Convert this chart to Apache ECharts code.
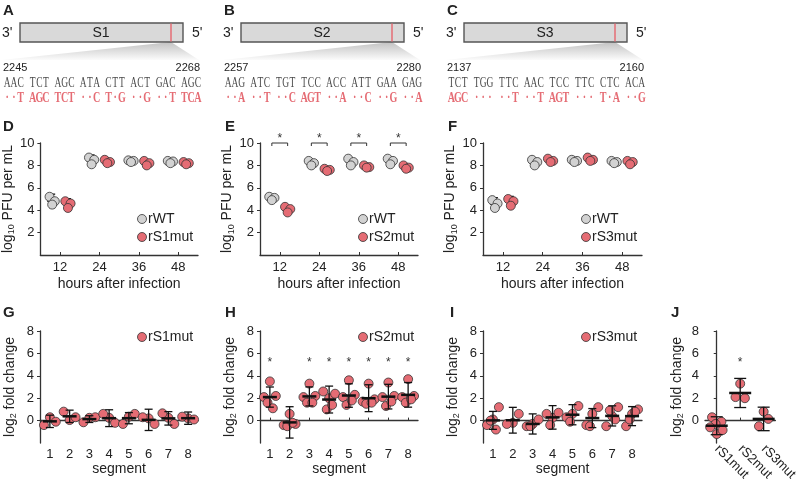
<!DOCTYPE html>
<html>
<head>
<meta charset="utf-8">
<script src="https://cdn.jsdelivr.net/npm/echarts@6/dist/echarts.min.js"></script>
<style>
html, body { margin: 0; background: #fff; }
#main { width: 800px; height: 487px; }
</style>
</head>
<body>
<div id="main"></div>
<script>
// ---- data ----
var hours = [12, 24, 36, 48];
var segments = [1, 2, 3, 4, 5, 6, 7, 8];
var mutNames = ['rS1mut', 'rS2mut', 'rS3mut'];

// log10 PFU per mL, 3 replicates per time point
var wtD = [[5.2, 4.8, 4.5], [8.7, 8.5, 8.1], [8.45, 8.4, 8.3], [8.4, 8.35, 8.2]];
var wtDsd = [0.6, 0.5, 0.15, 0.15];
var mutD = [[4.8, 4.6, 4.2], [8.5, 8.3, 8.2], [8.4, 8.2, 8.0], [8.3, 8.2, 8.1]];
var mutDsd = [0.5, 0.2, 0.25, 0.15];

var wtE = [[5.2, 5.1, 4.9], [8.4, 8.2, 8.0], [8.6, 8.3, 8.0], [8.6, 8.4, 8.1]];
var wtEsd = [0.15, 0.25, 0.3, 0.25];
var mutE = [[4.3, 4.1, 3.8], [7.7, 7.6, 7.5], [8.0, 7.85, 7.8], [8.0, 7.8, 7.7]];
var mutEsd = [0.25, 0.1, 0.1, 0.15];

var wtF = [[4.9, 4.6, 4.2], [8.5, 8.3, 8.0], [8.5, 8.4, 8.3], [8.4, 8.3, 8.2]];
var wtFsd = [0.55, 0.35, 0.15, 0.1];
var mutF = [[5.0, 4.8, 4.4], [8.6, 8.4, 8.3], [8.7, 8.5, 8.4], [8.4, 8.3, 8.1]];
var mutFsd = [0.5, 0.15, 0.15, 0.15];

var starHoursE = [12, 24, 36, 48];

// log2 fold change per segment
var foldS1 = [[0.3, -0.4, -0.1], [0.05, 0.8, 0.3], [0.25, -0.15, 0.3], [0.25, 0.6, -0.2],
              [0.35, -0.3, 0.6], [0.2, 0.3, -0.3], [0.25, 0.65, -0.3], [0.2, 0.35, 0.1]];
var foldS1sd = [0.55, 0.55, 0.3, 0.75, 0.5, 0.95, 0.6, 0.55];

var foldS2 = [[3.5, 2.1, 2.2, 1.6, 1.1], [0.6, -0.4, -0.3, -0.5, -0.2], [3.3, 2.1, 2.2, 1.6, 1.6],
              [2.0, 2.6, 2.4, 1.0, 1.4], [3.6, 2.1, 2.3, 1.4, 1.8], [3.3, 1.7, 1.9, 1.5, 1.6],
              [3.4, 2.1, 2.2, 1.3, 1.7], [3.7, 2.1, 2.2, 1.6, 1.9]];
var foldS2sd = [0.9, 1.4, 0.85, 1.2, 1.05, 1.2, 1.1, 1.1];
var starSegH = [1, 3, 4, 5, 6, 7, 8];

var foldS3 = [[0.1, -0.4, 1.2, 0.0, -0.8], [-0.2, -0.3, 0.6], [-0.3, -0.5, 0.1, -0.5], [0.25, 0.6, 0.7, -0.4],
              [0.6, 0.3, 1.3, -0.1], [0.6, -0.4, 1.2, -0.5], [0.4, -0.5, 1.2, 0.9, 0.1], [0.6, -0.5, 1.0, 0.1, 0.8]];
var foldS3sd = [0.8, 1.15, 0.9, 1.05, 0.9, 0.85, 0.9, 0.85];

var foldAll = [[-1.2, -0.1, 0.3, -0.85, -0.3, -0.6], [3.3, 2.0, 2.1], [0.8, 0.15, -0.5]];
var foldAllSd = [0.8, 1.3, 1.05];
var starJ = [1];

// spread of replicate dots (axis units)
var JIT_T = [-0.8, 0.8, 0.0];
var JIT_S = [0.0, -0.3, 0.3, -0.12, 0.15, -0.2];
var JIT_J = [0.0, 0.2, -0.2, 0.25, -0.05, -0.28];

var topPanels = [
    {letter: 'A', seg: 'S1', from: '2245', to: '2268',
     seq: 'AAC TCT AGC ATA CTT ACT GAC AGC', mut: '\u00b7\u00b7T AGC TCT \u00b7\u00b7C T\u00b7G \u00b7\u00b7G \u00b7\u00b7T TCA'},
    {letter: 'B', seg: 'S2', from: '2257', to: '2280',
     seq: 'AAG ATC TGT TCC ACC ATT GAA GAG', mut: '\u00b7\u00b7A \u00b7\u00b7T \u00b7\u00b7C AGT \u00b7\u00b7A \u00b7\u00b7C \u00b7\u00b7G \u00b7\u00b7A'},
    {letter: 'C', seg: 'S3', from: '2137', to: '2160',
     seq: 'TCT TGG TTC AAC TCC TTC CTC ACA', mut: 'AGC \u00b7\u00b7\u00b7 \u00b7\u00b7T \u00b7\u00b7T AGT \u00b7\u00b7\u00b7 T\u00b7A \u00b7\u00b7G'}
];

// ---- helpers ----
var FONT = '"Liberation Sans", Arial, sans-serif';
var RED = '#e56c74';
var GREY = '#d2d2d2';
var INK = '#222';

function mean(a) { var s = 0; a.forEach(function (v) { s += v; }); return s / a.length; }

function dots(vals, xs, shift, jit) {
    var out = [];
    vals.forEach(function (rep, i) {
        rep.forEach(function (v, k) { out.push([xs[i] + shift + jit[k], v]); });
    });
    return out;
}
function bars(vals, sd, xs, shift) {
    return vals.map(function (rep, i) { return [xs[i] + shift, mean(rep), sd[i]]; });
}

function scatter(gi, data, color) {
    return {type: 'scatter', xAxisIndex: gi, yAxisIndex: gi, data: data, symbolSize: 9, z: 3, silent: true,
        itemStyle: {color: color, borderColor: '#333', borderWidth: 0.8, opacity: 1}};
}

function errBars(gi, data, meanHalf, capHalf, thick, z) {
    return {type: 'custom', xAxisIndex: gi, yAxisIndex: gi, data: data, z: z, silent: true,
        encode: {x: 0, y: 1},
        renderItem: function (params, api) {
            var x = api.value(0), m = api.value(1), s = api.value(2);
            var c = api.coord([x, m]), t = api.coord([x, m + s]), b = api.coord([x, m - s]);
            function ln(x1, y1, x2, y2, w) {
                return {type: 'line', shape: {x1: x1, y1: y1, x2: x2, y2: y2},
                    style: {stroke: '#111', fill: null, lineWidth: w}};
            }
            return {type: 'group', children: [
                ln(c[0], t[1], c[0], b[1], 1.3),
                ln(c[0] - capHalf, t[1], c[0] + capHalf, t[1], 1.3),
                ln(c[0] - capHalf, b[1], c[0] + capHalf, b[1], 1.3),
                ln(c[0] - meanHalf, c[1], c[0] + meanHalf, c[1], thick)
            ]};
        }};
}

function starText(x, y) {
    return {type: 'text', x: x, y: y, style: {text: '*', fill: '#333', font: '12px ' + FONT,
        align: 'center', textAlign: 'center', verticalAlign: 'middle', textVerticalAlign: 'middle'}};
}

function stars(gi, xs, yv) {
    return {type: 'custom', xAxisIndex: gi, yAxisIndex: gi, z: 5, silent: true,
        data: xs.map(function (x) { return [x, yv]; }), encode: {x: 0, y: 1},
        renderItem: function (params, api) {
            var p = api.coord([api.value(0), api.value(1)]);
            return starText(p[0], p[1]);
        }};
}

function brackets(gi, xs, yv, half) {
    return {type: 'custom', xAxisIndex: gi, yAxisIndex: gi, z: 5, silent: true,
        data: xs.map(function (x) { return [x, yv]; }), encode: {x: 0, y: 1},
        renderItem: function (params, api) {
            var x = api.value(0), y = api.value(1);
            var l = api.coord([x - half, y]), r = api.coord([x + half, y]);
            return {type: 'group', children: [
                {type: 'polyline', shape: {points: [[l[0], l[1] + 3], [l[0], l[1]], [r[0], r[1]], [r[0], r[1] + 3]]},
                    style: {stroke: '#333', fill: null, lineWidth: 1}},
                starText((l[0] + r[0]) / 2, l[1] - 4)
            ]};
        }};
}

var axisLine = {lineStyle: {color: '#333', width: 1.3}};
var nameStyle = {color: INK, fontSize: 14, fontFamily: FONT,
    rich: {s: {fontSize: 9, fontFamily: FONT, color: INK, padding: [7, 0, 0, 0]}}};

function xTime(gi) {
    return {gridIndex: gi, type: 'value', min: 6, max: 54, axisLine: axisLine,
        axisTick: {inside: true, length: 3, customValues: hours, lineStyle: {color: '#333'}},
        axisLabel: {customValues: hours, color: INK, fontSize: 13, fontFamily: FONT, margin: 6},
        splitLine: {show: false},
        name: 'hours after infection', nameLocation: 'middle', nameGap: 22, nameTextStyle: nameStyle};
}
function xSeg(gi) {
    return {gridIndex: gi, type: 'value', min: 0.5, max: 8.5, axisLine: axisLine,
        axisTick: {inside: true, length: 3, customValues: segments, lineStyle: {color: '#333'}},
        axisLabel: {customValues: segments, color: INK, fontSize: 13, fontFamily: FONT, margin: 5},
        splitLine: {show: false},
        name: 'segment', nameLocation: 'middle', nameGap: 19, nameTextStyle: nameStyle};
}
function xMut(gi) {
    return {gridIndex: gi, type: 'value', min: -0.5, max: 2.5, axisLine: axisLine,
        axisTick: {inside: true, length: 3, customValues: [0, 1, 2], lineStyle: {color: '#333'}},
        axisLabel: {customValues: [0, 1, 2], rotate: -45, color: INK, fontSize: 13, fontFamily: FONT, margin: 4,
            formatter: function (v) { return mutNames[Math.round(v)]; }},
        splitLine: {show: false}};
}
function yTitre(gi) {
    return {gridIndex: gi, type: 'value', min: 0, max: 10, axisLine: axisLine,
        axisTick: {length: 3, customValues: [2, 4, 6, 8, 10], lineStyle: {color: '#333'}},
        axisLabel: {customValues: [2, 4, 6, 8, 10], color: INK, fontSize: 13, fontFamily: FONT, margin: 6},
        splitLine: {show: false},
        name: 'log{s|10} PFU per mL', nameLocation: 'middle', nameRotate: 90, nameGap: 20, nameTextStyle: nameStyle};
}
function yFold(gi, gap) {
    return {gridIndex: gi, type: 'value', min: -2, max: 8, axisLine: axisLine,
        axisTick: {length: 3, customValues: [0, 2, 4, 6, 8], lineStyle: {color: '#333'}},
        axisLabel: {customValues: [0, 2, 4, 6, 8], color: INK, fontSize: 13, fontFamily: FONT, margin: 6},
        splitLine: {show: false},
        name: 'log{s|2} fold change', nameLocation: 'middle', nameRotate: 90, nameGap: gap, nameTextStyle: nameStyle};
}

// ---- layout ----
var grids = [
    {left: 40, top: 143, width: 158, height: 112},
    {left: 260, top: 143, width: 158, height: 112},
    {left: 483, top: 143, width: 159, height: 112},
    {left: 40, top: 331, width: 158, height: 112},
    {left: 260, top: 331, width: 158, height: 112},
    {left: 483, top: 331, width: 159, height: 112},
    {left: 705, top: 331, width: 78, height: 112}
];

var series = [];
[[wtD, wtDsd, mutD, mutDsd], [wtE, wtEsd, mutE, mutEsd], [wtF, wtFsd, mutF, mutFsd]].forEach(function (p, gi) {
    series.push(errBars(gi, bars(p[0], p[1], hours, -2.4), 5, 3, 2, 2));
    series.push(errBars(gi, bars(p[2], p[3], hours, 2.4), 5, 3, 2, 2));
    series.push(scatter(gi, dots(p[0], hours, -2.4, JIT_T), GREY));
    series.push(scatter(gi, dots(p[2], hours, 2.4, JIT_T), RED));
});
series.push(brackets(1, starHoursE, 10, 2.4));

[[foldS1, foldS1sd], [foldS2, foldS2sd], [foldS3, foldS3sd]].forEach(function (p, i) {
    var gi = 3 + i;
    series.push(scatter(gi, dots(p[0], segments, 0, JIT_S), RED));
    series.push(errBars(gi, bars(p[0], p[1], segments, 0), 7, 4, 2.5, 4));
});
series.push(stars(4, starSegH, 5.2));

series.push(scatter(6, dots(foldAll, [0, 1, 2], 0, JIT_J), RED));
series.push(errBars(6, bars(foldAll, foldAllSd, [0, 1, 2], 0), 11, 6, 2.5, 4));
series.push(stars(6, starJ, 5.2));

// ---- annotations: panel letters, segment schematics, legends ----
var graphic = [];
function txt(x, y, s, font, color, align, scaleX) {
    graphic.push({type: 'text', x: x, y: y, scaleX: scaleX || 1, z: 10,
        style: {text: s, font: font, fill: color || INK, align: align || 'left', textAlign: align || 'left',
            verticalAlign: 'middle', textVerticalAlign: 'middle'}});
}
var letterFont = 'bold 15px ' + FONT;
[['A', 3, 11], ['B', 224, 11], ['C', 447, 11], ['D', 3, 127], ['E', 225, 127], ['F', 448, 127],
 ['G', 3, 313], ['H', 225, 313], ['I', 450, 313], ['J', 671, 313]].forEach(function (l) {
    txt(l[1], l[2], l[0], letterFont);
});

topPanels.forEach(function (p, i) {
    var ox = [0, 221, 444][i];
    graphic.push({type: 'polygon', z: 1, shape: {points: [[171 + ox, 42], [199 + ox, 60], [2 + ox, 60]]},
        style: {fill: {type: 'linear', x: 0, y: 0, x2: 0, y2: 1,
            colorStops: [{offset: 0, color: '#c2c2c2'}, {offset: 1, color: '#fbfbfb'}]}}});
    graphic.push({type: 'rect', z: 2, shape: {x: 20 + ox, y: 23, width: 163, height: 19},
        style: {fill: '#d9d9d9', stroke: '#555', lineWidth: 1.4}});
    graphic.push({type: 'line', z: 3, shape: {x1: 171 + ox, y1: 23.5, x2: 171 + ox, y2: 41.5},
        style: {stroke: RED, lineWidth: 1.5}});
    txt(2 + ox, 33, "3'", '14px ' + FONT);
    txt(192 + ox, 33, "5'", '14px ' + FONT);
    txt(101 + ox, 33, p.seg, '14px ' + FONT, INK, 'center');
    txt(3 + ox, 68, p.from, '11px ' + FONT);
    txt(200 + ox, 68, p.to, '11px ' + FONT, INK, 'right');
    for (var k = 0; k < p.seq.length; k++) {
        var codon = Math.floor(k / 4), pos = k % 4;
        var cx = ox + 7.3 + codon * 25.3 + pos * 6.7;
        if (p.seq[k] !== ' ') txt(cx, 83, p.seq[k], '14px "Liberation Serif", serif', '#4a4a4a', 'center', 0.68);
        if (p.mut[k] !== ' ') txt(cx, 98, p.mut[k], 'bold 14px "Liberation Serif", serif', RED, 'center', 0.72);
    }
});

function legendItem(x, y, color, label) {
    graphic.push({type: 'circle', z: 10, shape: {cx: x, cy: y, r: 4.5},
        style: {fill: color, stroke: '#333', lineWidth: 0.8}});
    txt(x + 6, y, label, '14px ' + FONT);
}
[[142, 'rS1mut'], [363, 'rS2mut'], [586, 'rS3mut']].forEach(function (l) {
    legendItem(l[0], 219, GREY, 'rWT');
    legendItem(l[0], 237, RED, l[1]);
    legendItem(l[0], 337, RED, l[1]);
});

var chart = echarts.init(document.getElementById('main'), null, {renderer: 'canvas'});
chart.setOption({
    animation: false,
    backgroundColor: '#fff',
    textStyle: {fontFamily: FONT},
    grid: grids,
    xAxis: [xTime(0), xTime(1), xTime(2), xSeg(3), xSeg(4), xSeg(5), xMut(6)],
    yAxis: [yTitre(0), yTitre(1), yTitre(2), yFold(3, 22), yFold(4, 22), yFold(5, 22), yFold(6, 20)],
    series: series,
    graphic: graphic
});
</script>
</body>
</html>
